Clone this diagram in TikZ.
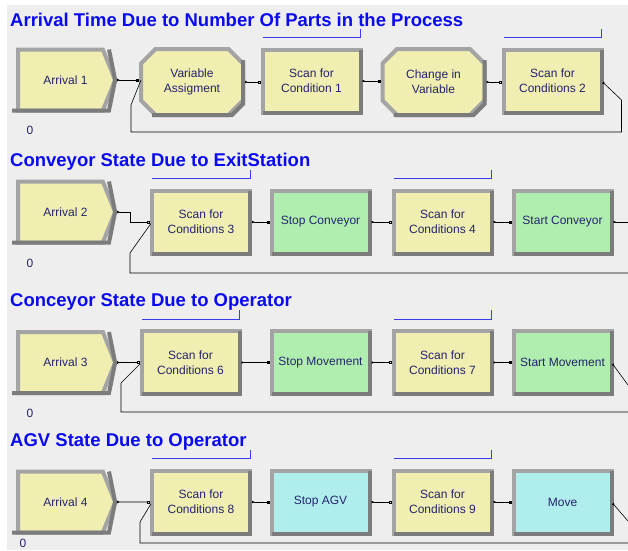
\documentclass[tikz,border=0pt]{standalone}
\usepackage{fontspec}
\setmainfont{Liberation Sans}
\usepackage{xcolor}
\usepackage{tikz}
\usetikzlibrary{shapes.symbols,shapes.misc,arrows.meta}

\definecolor{bgray}{HTML}{EEEEEE}
\definecolor{modyellow}{HTML}{F0EEB0}
\definecolor{modgreen}{HTML}{B0EEB0}
\definecolor{modcyan}{HTML}{B0EEEE}
\definecolor{bevellight}{HTML}{A4A4A4}
\definecolor{beveldark}{HTML}{7C7C7C}
\definecolor{textnavy}{HTML}{24246E}
\definecolor{titleblue}{HTML}{0A0AF0}
\definecolor{bracketblue}{HTML}{3A3AF0}

\begin{document}
\begin{tikzpicture}[x=1pt, y=-1pt, node distance=122pt,
    module/.style={draw=bevellight, line width=4pt, outer sep=0pt, text=textnavy,
      font=\fontsize{12}{15}\selectfont, align=center},
    block/.style={module, rectangle, minimum width=98pt, minimum height=63pt},
    arrival/.style={module, signal, signal to=east, signal from=nowhere,
      signal pointer angle=136, fill=modyellow, minimum width=97pt, minimum height=61pt,
      execute at begin node=\hspace*{10pt}},
    assign/.style={module, chamfered rectangle, chamfered rectangle xsep=11pt,
      fill=modyellow, minimum width=102pt, minimum height=66pt},
    bevel/.style={draw=beveldark, line width=4pt},
    title/.style={anchor=base west, inner sep=0pt, text=titleblue,
      font=\fontsize{18.5}{21}\selectfont\bfseries},
    counter/.style={text=textnavy, font=\fontsize{12}{14}\selectfont},
    bracket/.style={draw=bracketblue, line width=0.9pt},
    flow/.style={line width=0.6pt, shorten <=2pt, shorten >=2pt,
      {Triangle[reversed, length=2.5pt, width=2.5pt]}-{Square[length=3pt]}},
    flowopen/.style={line width=0.6pt, shorten <=2pt, shorten >=2pt,
      {Triangle[reversed, length=2.5pt, width=2.5pt]}-{Square[open, length=3pt]}},
    exit/.style={line width=0.6pt, shorten <=2pt,
      {Triangle[reversed, length=2.5pt, width=2.5pt]}-},
    back/.style={line width=0.6pt, shorten >=2pt}]

    \useasboundingbox (0,0) rectangle (628,550);
    \fill[bgray] (7,5) rectangle (628,550);

    % row 1
    \node [title] (title1) at (10,26) {Arrival Time Due to Number Of Parts in the Process};
    \node [arrival] (arrival1) at (60.5,80) {Arrival 1};
    \node [assign, right of=arrival1, xshift=9.5pt, yshift=-2pt] (varassign) {Variable\\Assigment};
    \node [block, fill=modyellow, right of=varassign, xshift=-2.5pt, yshift=1pt] (scan1) {Scan for\\Condition 1};
    \node [assign, right of=scan1, yshift=-1pt] (change) {Change in\\Variable};
    \node [block, fill=modyellow, right of=change, xshift=-3pt, yshift=1pt] (scan2) {Scan for\\Conditions 2};
    \node [counter] (count1) at (30,130) {0};

    % row 2
    \node [title] (title2) at (10,166) {Conveyor State Due to ExitStation};
    \node [arrival] (arrival2) at (60.5,212) {Arrival 2};
    \node [block, fill=modyellow, right of=arrival2, xshift=18.5pt, yshift=-10pt] (scan3) {Scan for\\Conditions 3};
    \node [block, fill=modgreen, right of=scan3, xshift=-2.5pt] (stopconv) {Stop Conveyor};
    \node [block, fill=modyellow, right of=stopconv] (scan4) {Scan for\\Conditions 4};
    \node [block, fill=modgreen, right of=scan4, xshift=-2pt] (startconv) {Start Conveyor};
    \node [counter] (count2) at (30,263) {0};

    % row 3
    \node [title] (title3) at (10,306) {Conceyor State Due to Operator};
    \node [arrival] (arrival3) at (60.5,362.5) {Arrival 3};
    \node [block, fill=modyellow, right of=arrival3, xshift=8pt] (scan6) {Scan for\\Conditions 6};
    \node [block, fill=modgreen, right of=scan6, xshift=8pt] (stopmove) {Stop Movement};
    \node [block, fill=modyellow, right of=stopmove] (scan7) {Scan for\\Conditions 7};
    \node [block, fill=modgreen, right of=scan7, xshift=-2pt] (startmove) {Start Movement};
    \node [counter] (count3) at (30,413) {0};

    % row 4
    \node [title] (title4) at (10,446) {AGV State Due to Operator};
    \node [arrival] (arrival4) at (60.5,502) {Arrival 4};
    \node [block, fill=modyellow, right of=arrival4, xshift=18.5pt] (scan8) {Scan for\\Conditions 8};
    \node [block, fill=modcyan, right of=scan8, xshift=-2.5pt] (stopagv) {Stop AGV};
    \node [block, fill=modyellow, right of=stopagv] (scan9) {Scan for\\Conditions 9};
    \node [block, fill=modcyan, right of=scan9, xshift=-2pt] (move) {Move};
    \node [counter] (count4) at (23,543) {0};

    % bevel shading
    \foreach \n in {scan1,scan2,scan3,stopconv,scan4,startconv,scan6,stopmove,scan7,startmove,scan8,stopagv,scan9,move}
      \draw [bevel] (\n.north east) -- (\n.south east) -- (\n.south west);
    \foreach \n in {varassign,change}
      \draw [bevel] ([yshift=22pt]\n.east) -- ([yshift=-22pt]\n.east) -- ([xshift=40pt]\n.south) -- ([xshift=-40pt]\n.south);
    \foreach \n in {arrival1,arrival2,arrival3,arrival4}
      \draw [bevel] ([xshift=48.5pt]\n.north) -- (\n.east) -- ([xshift=48.5pt]\n.south) -- ([xshift=-48.5pt]\n.south);

    % brackets
    \foreach \n in {scan1,scan2,scan3,scan4,scan6,scan7,scan8,scan9}
      \draw [bracket] ([yshift=12pt]\n.north west) -- ([yshift=12pt]\n.north east) -- ([yshift=21pt]\n.north east);

    % connectors
    \draw [flow] (arrival1.east) -- (arrival1.east -| varassign.west);
    \draw [flowopen] (varassign.east) -- (varassign.east -| scan1.west);
    \draw [flow] (scan1.east) -- (scan1.east -| change.west);
    \draw [flowopen] (change.east) -- (change.east -| scan2.west);
    \draw [exit] (scan2.east) -- ++(20,19) -- ++(0,32) -| ([xshift=-10pt, yshift=-23pt]varassign.west) -- (arrival1.east -| varassign.west);

    \coordinate (exit2) at (628,222);
    \coordinate (back2) at (628,273);
    \draw [flowopen] (arrival2.east) -- ++(15,0) |- (scan3.west);
    \draw [flow] (scan3) -- (stopconv);
    \draw [flowopen] (stopconv) -- (scan4);
    \draw [flow] (scan4) -- (startconv);
    \draw [exit] (startconv.east) -- (exit2);
    \draw [back] (back2) -| ([xshift=-22pt, yshift=-31pt]scan3.west) -- (scan3.west);

    \coordinate (exit3) at (628,385);
    \coordinate (back3) at (628,412);
    \draw [flowopen] (arrival3) -- (scan6);
    \draw [flow] (scan6) -- (stopmove);
    \draw [flowopen] (stopmove) -- (scan7);
    \draw [flow] (scan7) -- (startmove);
    \draw [exit] (startmove.east) -- (exit3);
    \draw [back] (back3) -| ([xshift=-20.5pt, yshift=-20.5pt]scan6.west) -- (scan6.west);

    \coordinate (exit4) at (628,521);
    \coordinate (back4) at (628,543);
    \draw [flowopen] (arrival4) -- (scan8);
    \draw [flow] (scan8) -- (stopagv);
    \draw [flowopen] (stopagv) -- (scan9);
    \draw [flow] (scan9) -- (move);
    \draw [exit] (move.east) -- (exit4);
    \draw [back] (back4) -| ([xshift=-12pt, yshift=-20pt]scan8.west) -- (scan8.west);
\end{tikzpicture}
\end{document}
